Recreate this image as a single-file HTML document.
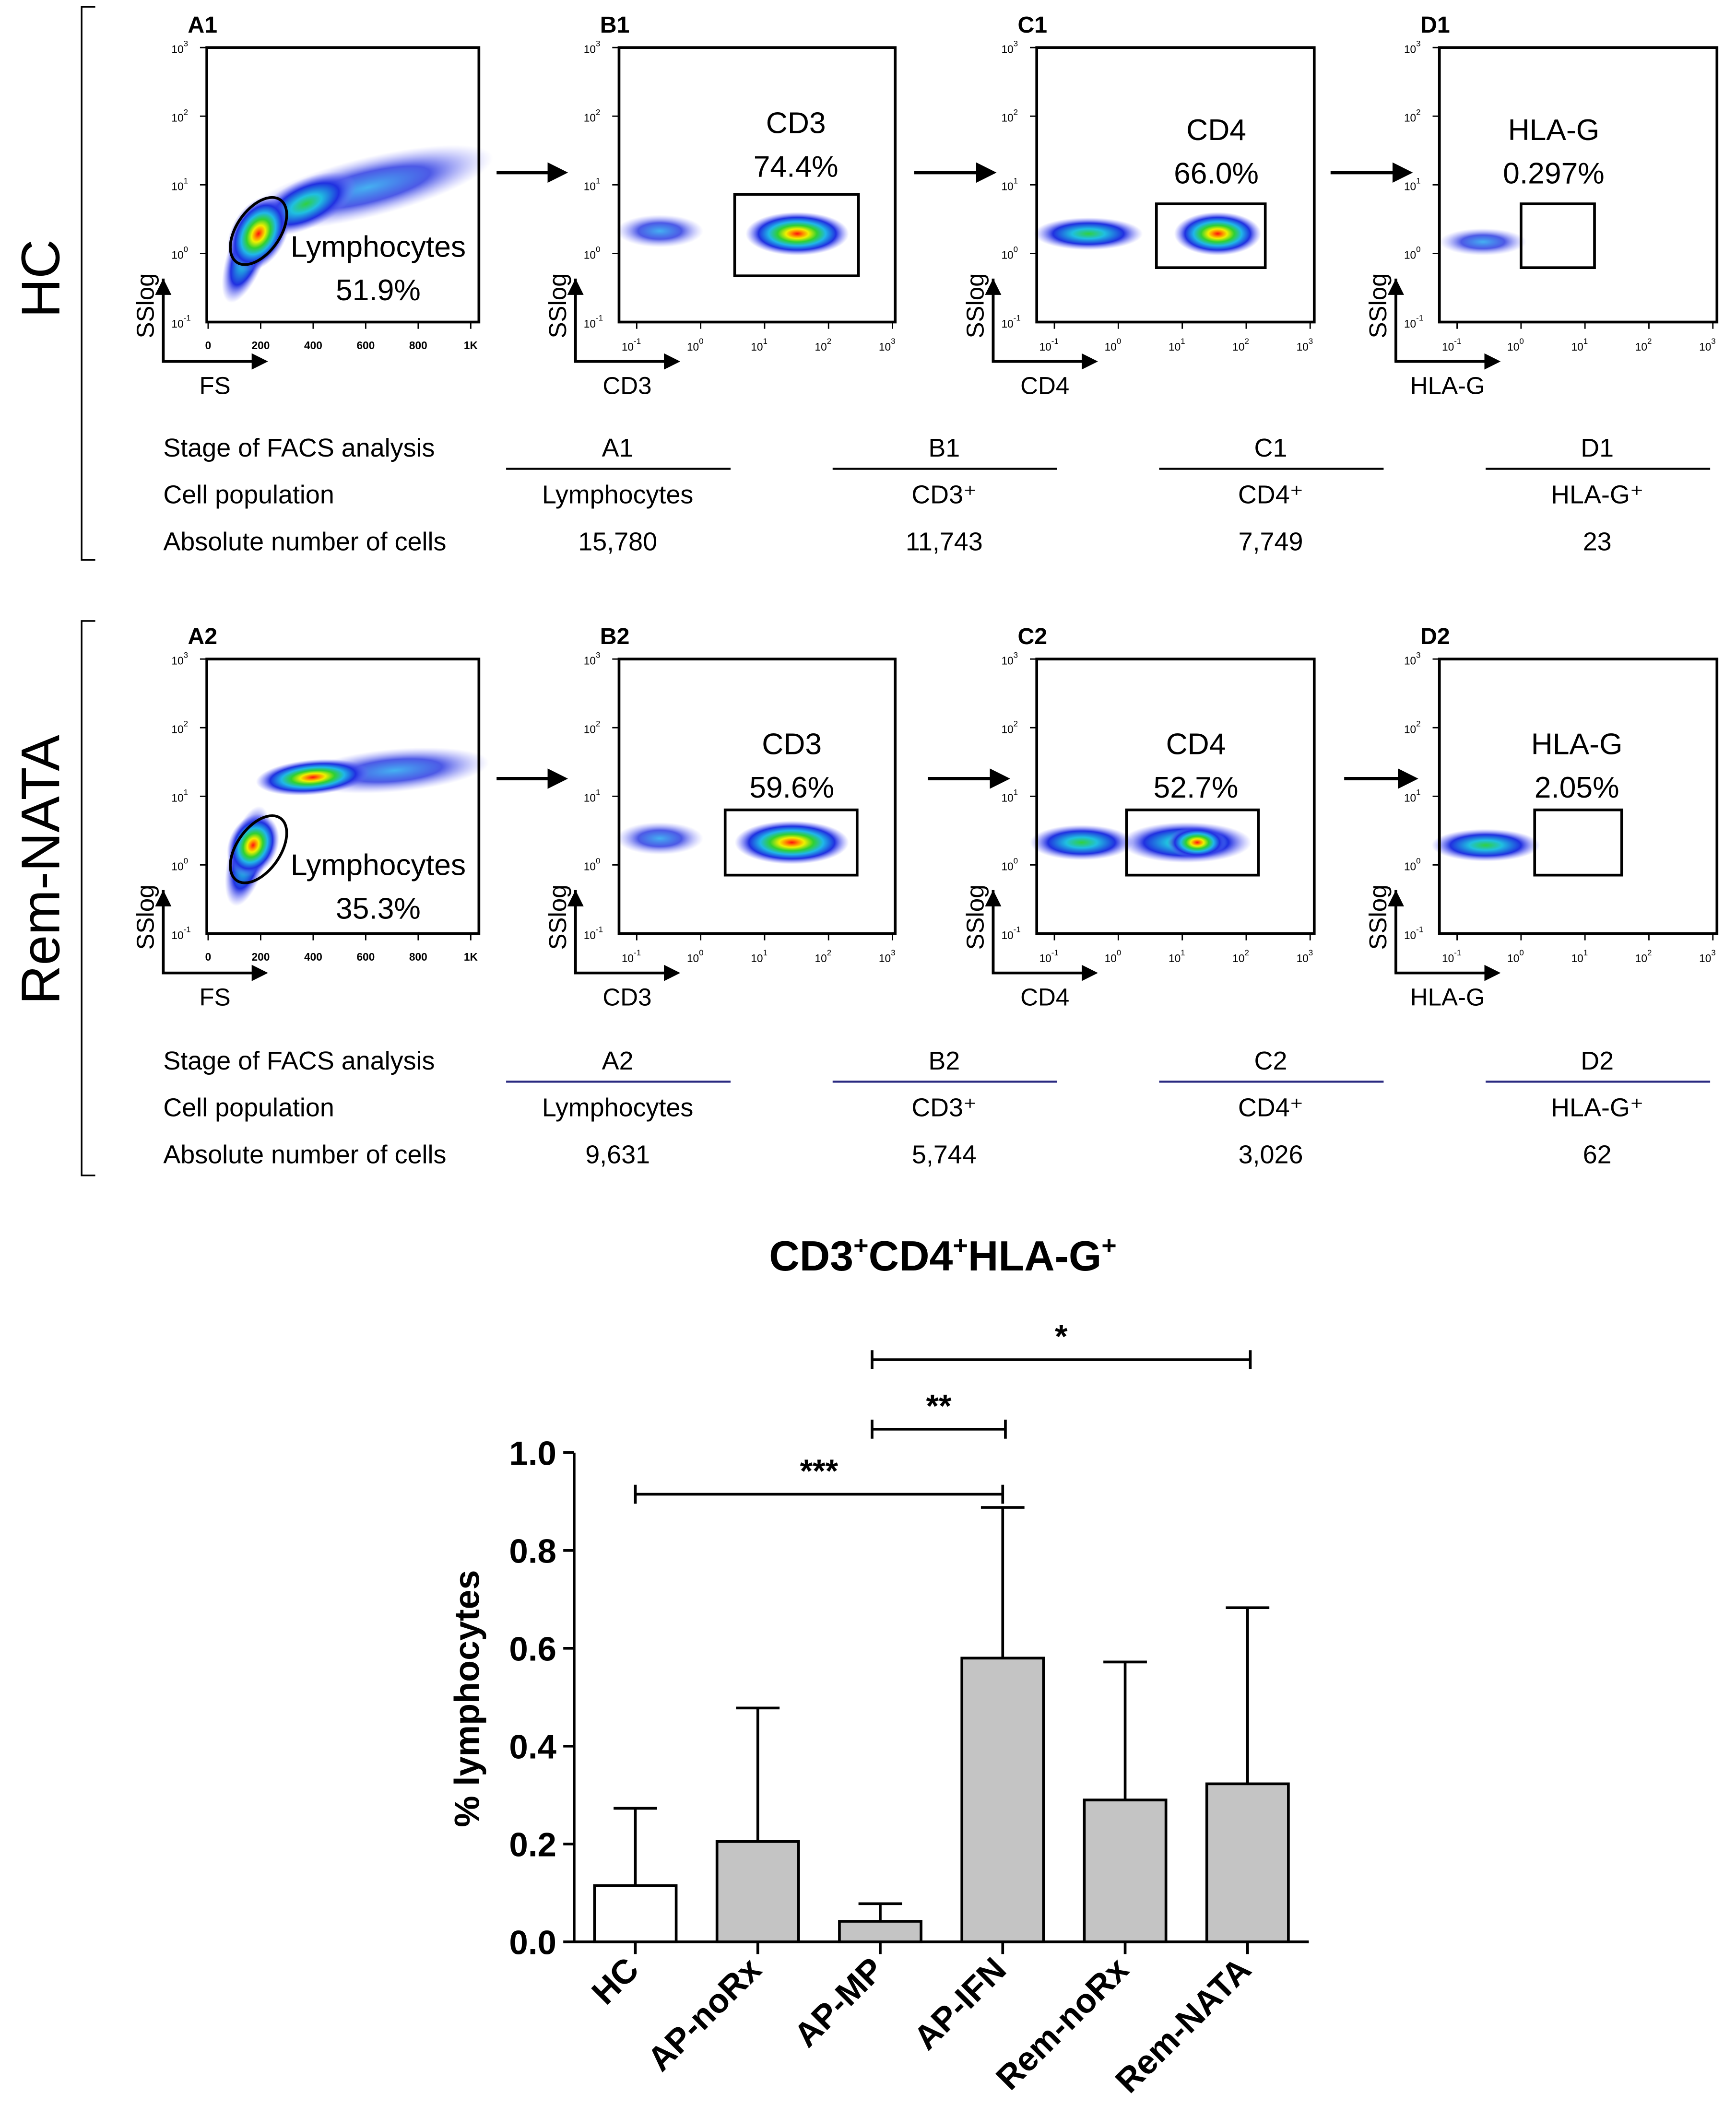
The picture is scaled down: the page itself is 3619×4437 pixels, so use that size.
<!DOCTYPE html>
<html><head><meta charset="utf-8"><style>
html,body{margin:0;padding:0;background:#fff}
svg{display:block}
text{font-family:"Liberation Sans",sans-serif}
</style></head><body>
<svg id="root" width="3619" height="4437" viewBox="0 0 1276 1566" preserveAspectRatio="none" xmlns="http://www.w3.org/2000/svg">
<defs>
<radialGradient id="dense"><stop offset="0" stop-color="#ff1010"/><stop offset="0.12" stop-color="#ff9000"/><stop offset="0.22" stop-color="#f0f000"/><stop offset="0.38" stop-color="#30d030"/><stop offset="0.55" stop-color="#20b8e8"/><stop offset="0.75" stop-color="#2030e0"/><stop offset="1" stop-color="#7070ff" stop-opacity="0"/></radialGradient>
<radialGradient id="mid"><stop offset="0" stop-color="#30d040"/><stop offset="0.3" stop-color="#20c0e0"/><stop offset="0.65" stop-color="#2030e0"/><stop offset="1" stop-color="#8080ff" stop-opacity="0"/></radialGradient>
<radialGradient id="sparse"><stop offset="0" stop-color="#30a8f0" stop-opacity="0.9"/><stop offset="0.5" stop-color="#2030e0" stop-opacity="0.8"/><stop offset="1" stop-color="#9090ff" stop-opacity="0"/></radialGradient>
<marker id="ah" markerWidth="6" markerHeight="6" refX="5" refY="3" orient="auto"><path d="M0,0 L6,3 L0,6 z" fill="#000"/></marker>
</defs>
<g id="facs"></g>
<g id="bars"></g>
</svg>
<script>
// ---- bar chart data ----
const categories = ["HC","AP-noRx","AP-MP","AP-IFN","Rem-noRx","Rem-NATA"];
const meanValues = [0.115,0.205,0.042,0.58,0.29,0.323];
const errorTops = [0.273,0.478,0.078,0.888,0.572,0.683];
const yTicks = [0.0,0.2,0.4,0.6,0.8,1.0];
const yTickLabels = ["0.0","0.2","0.4","0.6","0.8","1.0"];
const sigFrom = [0,2,2];
const sigTo = [3,3,5];
const sigLevel = [0.915,1.048,1.19];
const sigLabels = ["***","**","*"];

const NS="http://www.w3.org/2000/svg";
function mk(tag,attrs,parent,txt){const e=document.createElementNS(NS,tag);for(const k in attrs)e.setAttribute(k,attrs[k]);if(txt!==undefined)e.textContent=txt;parent.appendChild(e);return e;}

// ---- FACS panels ----
const F=document.getElementById('facs');
const rows=[{top:35,lab:"1",side:"HC",sy:205,br:[5,412]},{top:485,lab:"2",side:"Rem-NATA",sy:640,br:[457,865]}];
const panels=[{l:152,r:352,id:"A",x:"FS"},{l:455,r:658,id:"B",x:"CD3"},{l:762,r:966,id:"C",x:"CD4"},{l:1058,r:1262,id:"D",x:"HLA-G"}];
const gates=[
 [null,{x:540,y:143,w:91,h:60,t:"CD3",p:"74.4%",tx:585,ty:98},{x:850,y:150,w:80,h:47,t:"CD4",p:"66.0%",tx:894,ty:103},{x:1118,y:150,w:54,h:47,t:"HLA-G",p:"0.297%",tx:1142,ty:103}],
 [null,{x:533,y:596,w:97,h:48,t:"CD3",p:"59.6%",tx:582,ty:555},{x:828,y:596,w:97,h:48,t:"CD4",p:"52.7%",tx:879,ty:555},{x:1128,y:596,w:64,h:48,t:"HLA-G",p:"2.05%",tx:1159,ty:555}]];
const blobs=[
 [[[270,138,95,22,-14,"sparse"],[225,150,40,18,-25,"mid"],[182,185,14,40,20,"mid"],[190,172,20,30,30,"dense"]],
  [[485,170,32,12,0,"sparse"],[586,172,38,16,0,"dense"]],
  [[800,172,40,12,0,"mid"],[895,172,32,16,0,"dense"]],
  [[1090,178,32,10,0,"sparse"]]],
 [[[290,567,70,16,-5,"sparse"],[230,572,42,13,-5,"dense"],[182,630,14,38,15,"mid"],[186,622,18,24,25,"dense"]],
  [[485,617,32,12,0,"sparse"],[582,620,42,16,0,"dense"]],
  [[795,620,38,13,0,"mid"],[872,620,48,15,0,"mid"],[880,620,22,12,0,"dense"]],
  [[1092,622,40,12,0,"mid"]]]];
const arrows=[[[365,415,127],[672,730,127],[978,1036,127]],[[365,415,573],[682,740,573],[988,1040,573]]];
const tableRows=["Stage of FACS analysis","Cell population","Absolute number of cells"];
const tableVals=[[["A1","Lymphocytes","15,780"],["B1","CD3⁺","11,743"],["C1","CD4⁺","7,749"],["D1","HLA-G⁺","23"]],
 [["A2","Lymphocytes","9,631"],["B2","CD3⁺","5,744"],["C2","CD4⁺","3,026"],["D2","HLA-G⁺","62"]]];
const colC=[454,694,934,1174];
const sups=["-1","0","1","2","3"];
rows.forEach((R,ri)=>{
 const t=R.top,b=t+202;
 const g=mk('g',{},F);
 
 
 mk('path',{d:`M70,${R.br[0]} H60 V${R.br[1]} H70`,stroke:'#000','stroke-width':1.2,fill:'none'},g);
 const st=mk('text',{x:30,y:R.sy,'font-size':40,'text-anchor':'middle',transform:`rotate(-90 30 ${R.sy})`,'dominant-baseline':'central'},g,R.side);
 
 panels.forEach((P,pi)=>{
  const pg=mk('g',{},g);
  
  
  blobs[ri][pi].forEach(B=>{mk('ellipse',{cx:B[0],cy:B[1],rx:B[2],ry:B[3],fill:`url(#${B[5]})`,transform:`rotate(${B[4]} ${B[0]} ${B[1]})`},pg);});
  mk('rect',{x:P.l,y:t,width:P.r-P.l,height:202,fill:'none',stroke:'#000','stroke-width':2},pg);
  mk('text',{x:P.l-14,y:t-11,'font-size':17,'font-weight':'bold'},pg,P.id+R.lab);
  for(let k=0;k<=3;k++){const yy=t+k*50.5;mk('line',{x1:P.l-5,y1:yy,x2:P.l,y2:yy,stroke:'#000'},pg);
   const tx=mk('text',{x:P.l-26,y:yy+4,'font-size':8},pg,'10');mk('tspan',{dy:-5,'font-size':6},tx,["3","2","1","0"][k]);}
  const tm=mk('text',{x:P.l-26,y:b+4,'font-size':8},pg,'10');mk('tspan',{dy:-5,'font-size':6},tm,'-1');
  if(pi===0){["0","200","400","600","800","1K"].forEach((s,k)=>{const xx=P.l+k*38.6+1;mk('line',{x1:xx,y1:b,x2:xx,y2:b+5,stroke:'#000'},pg);mk('text',{x:xx,y:b+20,'font-size':8,'font-weight':'bold','text-anchor':'middle'},pg,s);});}
  else{sups.forEach((s,k)=>{const xx=P.l+13+k*47;mk('line',{x1:xx,y1:b,x2:xx,y2:b+5,stroke:'#000'},pg);const tx=mk('text',{x:xx-4,y:b+21,'font-size':8,'text-anchor':'middle'},pg,'10');mk('tspan',{dy:-5,'font-size':6},tx,s);});}
  const ax=P.l-32;
  mk('path',{d:`M${ax},${b-32} V${b+29} H${ax+75}`,stroke:'#000','stroke-width':2,fill:'none','marker-end':'url(#ah)'},pg);
  mk('line',{x1:ax,y1:b+29,x2:ax,y2:b-30,stroke:'#000','stroke-width':2,'marker-end':'url(#ah)'},pg);
  mk('text',{x:ax-7,y:b-12,'font-size':18,transform:`rotate(-90 ${ax-7} ${b-12})`,'text-anchor':'middle'},pg,'SSlog');
  mk('text',{x:ax+38,y:b+53,'font-size':18,'text-anchor':'middle'},pg,P.x);
  const G=gates[ri][pi];
  if(G){mk('rect',{x:G.x,y:G.y,width:G.w,height:G.h,fill:'none',stroke:'#000','stroke-width':2},pg);
   mk('text',{x:G.tx,y:G.ty,'font-size':22,'text-anchor':'middle'},pg,G.t);
   mk('text',{x:G.tx,y:G.ty+32,'font-size':22,'text-anchor':'middle'},pg,G.p);}
  else{const cy=ri===0?170:625;mk('ellipse',{cx:190,cy:cy,rx:16,ry:28,fill:'none',stroke:'#000','stroke-width':2,transform:`rotate(35 190 ${cy})`},pg);
   mk('text',{x:278,y:cy+19,'font-size':22,'text-anchor':'middle'},pg,'Lymphocytes');
   mk('text',{x:278,y:cy+51,'font-size':22,'text-anchor':'middle'},pg,ri===0?'51.9%':'35.3%');}
 });
 arrows[ri].forEach(A=>{const a=mk('line',{x1:A[0],y1:A[2],x2:A[1],y2:A[2],stroke:'#000','stroke-width':2.5,'marker-end':'url(#ah)'},g);});
 const tb=mk('g',{},g);
 
 
 const ty0=ri===0?336:787;
 tableRows.forEach((s,k)=>mk('text',{x:120,y:ty0+k*34.5,'font-size':19},tb,s));
 colC.forEach((cx,c)=>{mk('line',{x1:cx-82,y1:ty0+9,x2:cx+83,y2:ty0+9,stroke:ri===0?'#000':'#2a2a80','stroke-width':1.5},tb);
  tableVals[ri][c].forEach((s,k)=>mk('text',{x:cx,y:ty0+k*34.5,'font-size':19,'text-anchor':'middle'},tb,s));});
});

// ---- bar chart ----
const BG=document.getElementById('bars');
const y0=1429,ppu=360,axX=422,x0c=467,step=90,bw=60;
const yS=v=>y0-v*ppu, xS=i=>x0c+i*step;
const t=mk('text',{x:693,y:935,'font-size':31,'font-weight':'bold','text-anchor':'middle'},BG,'CD3');

mk('tspan',{dy:-12,'font-size':19},t,'+');mk('tspan',{dy:12},t,'CD4');mk('tspan',{dy:-12,'font-size':19},t,'+');mk('tspan',{dy:12},t,'HLA-G');mk('tspan',{dy:-12,'font-size':19},t,'+');
const yl=mk('text',{x:352,y:1250,'font-size':26,'font-weight':'bold','text-anchor':'middle',transform:'rotate(-90 352 1250)'},BG,'% lymphocytes');

mk('line',{x1:axX,y1:yS(1.0),x2:axX,y2:y0,stroke:'#000','stroke-width':2},BG);
mk('line',{x1:axX,y1:y0,x2:962,y2:y0,stroke:'#000','stroke-width':2},BG);
yTicks.forEach((v,k)=>{mk('line',{x1:axX-8,y1:yS(v),x2:axX,y2:yS(v),stroke:'#000','stroke-width':2},BG);
 const tl=mk('text',{x:axX-13,y:yS(v)+9,'font-size':25,'font-weight':'bold','text-anchor':'end'},BG,yTickLabels[k]);
 });
categories.forEach((c,i)=>{
 const x=xS(i);
 mk('line',{x1:x,y1:yS(errorTops[i]),x2:x,y2:yS(meanValues[i]),stroke:'#000','stroke-width':2},BG);
 mk('line',{x1:x-16,y1:yS(errorTops[i]),x2:x+16,y2:yS(errorTops[i]),stroke:'#000','stroke-width':2},BG);
 const r=mk('rect',{x:x-bw/2,y:yS(meanValues[i]),width:bw,height:y0-yS(meanValues[i]),fill:i===0?'#fff':'#c4c4c4',stroke:'#000','stroke-width':2},BG);
 
 mk('line',{x1:x,y1:y0,x2:x,y2:y0+9,stroke:'#000','stroke-width':2},BG);
 const lx=x+4,ly=y0+22;
 const xl=mk('text',{x:lx,y:ly,'font-size':25,'font-weight':'bold','text-anchor':'end',transform:`rotate(-45 ${lx} ${ly})`},BG,c);
 
});
sigLabels.forEach((s,k)=>{
 const xa=sigFrom[k]===2?xS(2)-6:xS(sigFrom[k]), xb=xS(sigTo[k])+(k===0?0:2), y=yS(sigLevel[k]);
 const g=mk('g',{},BG);
 mk('path',{d:`M${xa},${y-7} V${y+7} M${xa},${y} H${xb} M${xb},${y-7} V${y+7}`,stroke:'#000','stroke-width':2,fill:'none'},g);
 mk('text',{x:(xa+xb)/2,y:y-9,'font-size':24,'font-weight':'bold','text-anchor':'middle'},g,s);
});
</script>
</body></html>
